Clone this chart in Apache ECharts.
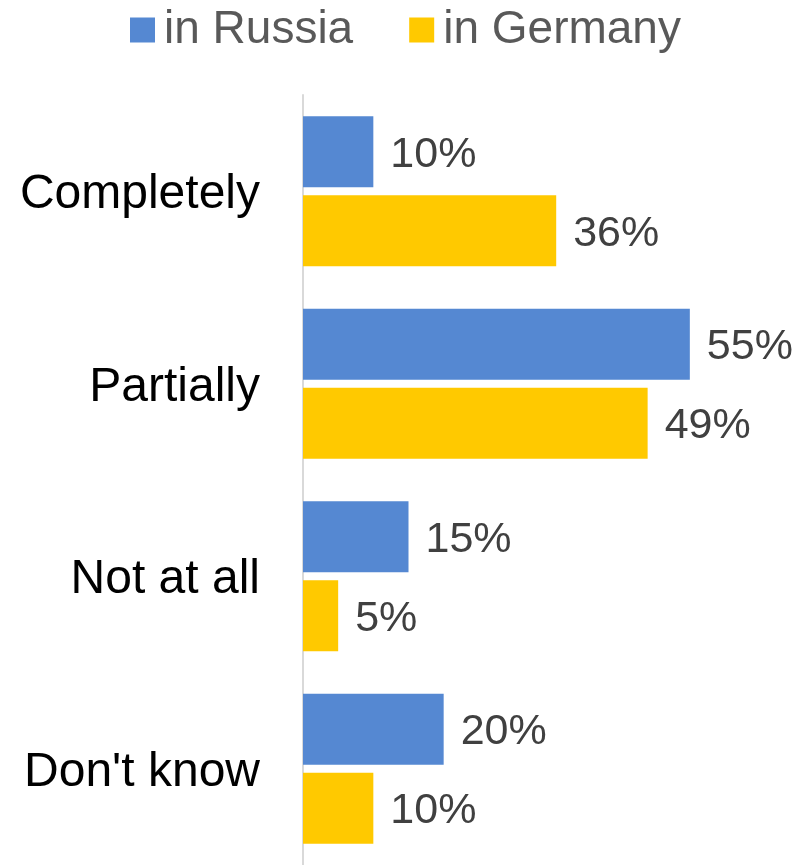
<!DOCTYPE html>
<html>
<head>
<meta charset="utf-8">
<script src="https://cdn.jsdelivr.net/npm/echarts@6/dist/echarts.min.js"></script>
<style>html,body{margin:0;padding:0;background:#fff}#c{width:794px;height:865px}</style>
</head>
<body>
<div id="c"></div>
<script>
const categories = ["Completely", "Partially", "Not at all", "Don't know"];
const russia = [10, 55, 15, 20];
const germany = [36, 49, 5, 10];
const seriesNames = ["in Russia", "in Germany"];

const FONT = "'Liberation Sans', Arial, sans-serif";
const chart = echarts.init(document.getElementById('c'), null, {renderer: 'canvas'});
const labelCfg = {
  show: true, position: 'right', distance: 17, offset: [0, 3],
  formatter: p => p.value + '%',
  fontSize: 43, color: '#404040', fontFamily: FONT
};
chart.setOption({
  animation: false,
  backgroundColor: '#ffffff',
  legend: {
    top: 2, left: 125,
    icon: 'rect', itemWidth: 25, itemHeight: 25, itemGap: 56,
    textStyle: {fontSize: 46, color: '#595959', fontFamily: FONT, padding: [0, 0, 0, 4]},
    data: seriesNames
  },
  grid: {left: 303, top: 95, bottom: 0, right: 69},
  xAxis: {
    type: 'value', min: 0, max: 60, show: false,
    splitLine: {show: false}
  },
  yAxis: {
    type: 'category', inverse: true, data: categories,
    axisLine: {show: true, lineStyle: {color: '#D9D9D9', width: 2}},
    axisTick: {show: false},
    axisLabel: {
      margin: 43,
      formatter: v => '{a|' + v + '}',
      rich: {a: {fontSize: 48, color: '#000000', fontFamily: FONT, padding: [8, 0, 0, 0]}}
    }
  },
  series: [
    {name: seriesNames[0], type: 'bar', data: russia, barWidth: 71, barGap: '11%',
     itemStyle: {color: '#5588D2'}, label: labelCfg},
    {name: seriesNames[1], type: 'bar', data: germany, barWidth: 71,
     itemStyle: {color: '#FFC900'}, label: labelCfg}
  ]
});
</script>
</body>
</html>
